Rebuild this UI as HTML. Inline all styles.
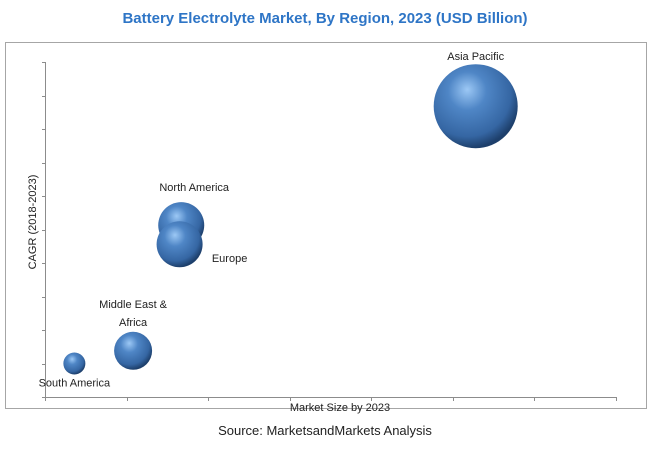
<!DOCTYPE html>
<html><head><meta charset="utf-8"><style>
body{margin:0;background:#fff;width:650px;height:446px;overflow:hidden;font-family:"Liberation Sans",sans-serif}
</style></head><body>
<svg width="650" height="446">
<defs>
<radialGradient id="g" cx="0.4" cy="0.35" r="0.65" fx="0.4" fy="0.3">
<stop offset="0" stop-color="#9cc8f5"/><stop offset="0.35" stop-color="#4f86c6"/><stop offset="0.8" stop-color="#3566a3"/><stop offset="1" stop-color="#1d3f6b"/>
</radialGradient>
</defs>
<text x="325" y="23" text-anchor="middle" font-size="15" font-weight="bold" fill="#2e75c6">Battery Electrolyte Market, By Region, 2023 (USD Billion)</text>
<rect x="5.5" y="42.5" width="641" height="366" fill="none" stroke="#a6a6a6"/>
<g id="axes"></g>
<g id="bubbles"></g>
<text x="340" y="411" text-anchor="middle" font-size="11" fill="#222">Market Size by 2023</text>
<text transform="translate(36,222) rotate(-90)" text-anchor="middle" font-size="11" fill="#222">CAGR (2018-2023)</text>
<text x="325" y="435" text-anchor="middle" font-size="13" fill="#222">Source: MarketsandMarkets Analysis</text>
</svg>
<script>
const regions=["South America","Middle East & Africa","North America","Europe","Asia Pacific"];
const marketSize=[0.36,1.08,1.67,1.65,5.28];
const cagr=[1.0,1.38,5.13,4.56,8.68];
const bubbleRadius=[11,19,23,23,42];
const xTicks=[0,1,2,3,4,5,6,7];
const yTicks=[0,1,2,3,4,5,6,7,8,9,10];
const NS="http://www.w3.org/2000/svg";
const X0=45,X1=616,Y0=397,Y1=62;
const sx=v=>X0+(X1-X0)*v/7, sy=v=>Y0-(Y0-Y1)*v/10;
function mk(t,a,p){const e=document.createElementNS(NS,t);for(const k in a)e.setAttribute(k,a[k]);p.appendChild(e);return e;}
const ax=document.getElementById('axes');
let l=mk('line',{x1:X0+.5,y1:Y1,x2:X0+.5,y2:Y0+.5,stroke:'#8c8c8c'},ax);


l=mk('line',{x1:X0,y1:Y0+.5,x2:X1,y2:Y0+.5,stroke:'#8c8c8c'},ax);


yTicks.forEach(v=>{const t=mk('line',{x1:X0-3,x2:X0,y1:Math.round(sy(v))+.5,y2:Math.round(sy(v))+.5,stroke:'#8c8c8c'},ax);

});
xTicks.forEach(v=>{const t=mk('line',{x1:Math.round(sx(v))+.5,x2:Math.round(sx(v))+.5,y1:Y0,y2:Y0+4,stroke:'#8c8c8c'},ax);

});
const bg=document.getElementById('bubbles');
const order=[0,1,2,3,4];
order.forEach(i=>{const c=mk('circle',{cx:sx(marketSize[i]),cy:sy(cagr[i]),r:bubbleRadius[i],fill:'url(#g)'},bg);

});
const labels=[[0,[["South America",0,19]]],[1,[["Middle East &",0,-47],["Africa",0,-29]]],[2,[["North America",13,-38]]],[3,[["Europe",50,14]]],[4,[["Asia Pacific",0,-50]]]];
labels.forEach(([i,ls])=>ls.forEach(([s,dx,dy])=>{const t=mk('text',{x:sx(marketSize[i])+dx,y:sy(cagr[i])+dy+4,'text-anchor':'middle','font-size':11,fill:'#222'},bg);t.textContent=s;

}));
</script>
</body></html>
